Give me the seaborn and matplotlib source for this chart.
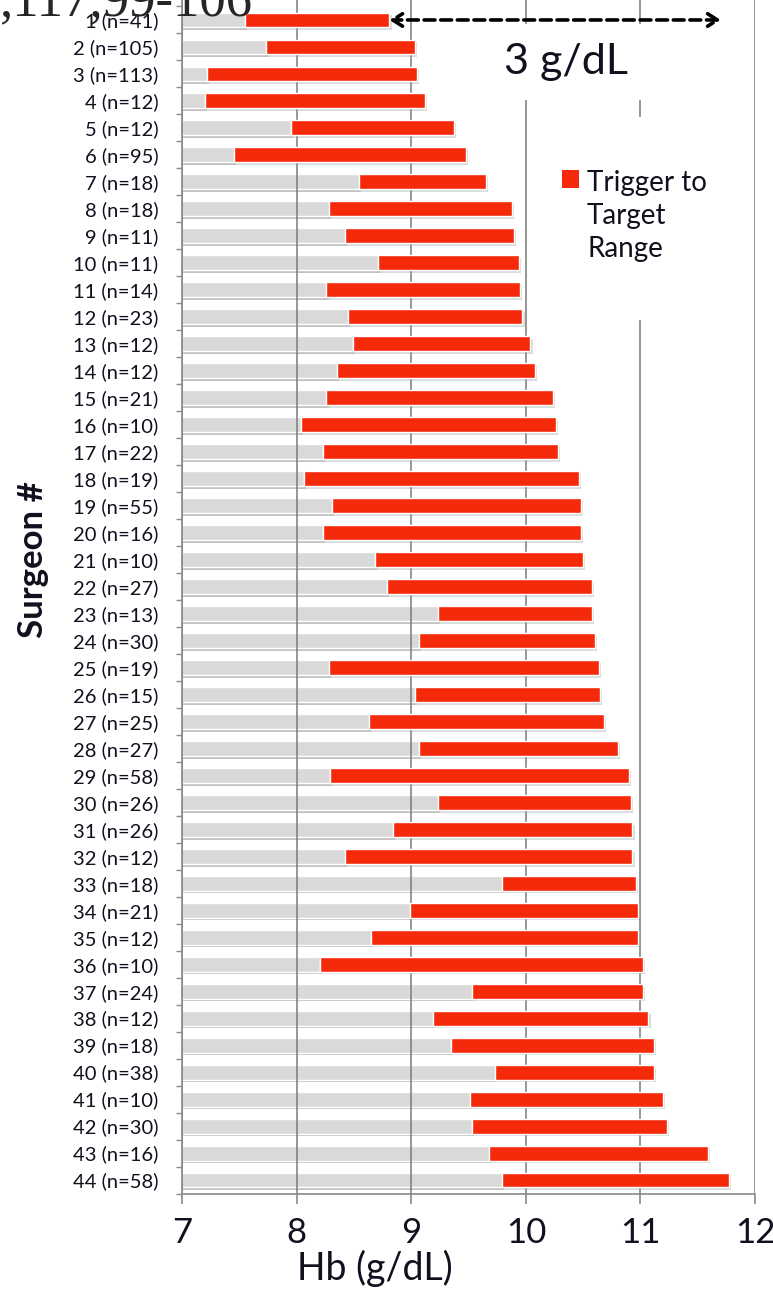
import numpy as np
import pandas as pd
import seaborn as sns
import matplotlib.pyplot as plt
import matplotlib.patheffects as pe
from matplotlib.patches import Patch, Rectangle

# surgeon number and case count
surgeons = list(range(1, 45))
n_cases = [41, 105, 113, 12, 12, 95, 18, 18, 11, 11, 14, 23, 12, 12, 21, 10, 22, 19, 55, 16, 10, 27,
           13, 30, 19, 15, 25, 27, 58, 26, 26, 12, 18, 21, 12, 10, 24, 12, 18, 38, 10, 30, 16, 58]

# transfusion trigger Hb (start of red bar) and target Hb (end of red bar), g/dL
trigger = [7.55, 7.73, 7.22, 7.20, 7.95, 7.45, 8.54, 8.28, 8.42, 8.71, 8.26, 8.45, 8.49, 8.35, 8.26,
           8.04, 8.23, 8.06, 8.31, 8.23, 8.68, 8.79, 9.23, 9.07, 8.28, 9.03, 8.63, 9.07, 8.29, 9.23,
           8.84, 8.42, 9.79, 8.99, 8.65, 8.20, 9.53, 9.19, 9.35, 9.73, 9.51, 9.53, 9.68, 9.79]
target = [8.81, 9.03, 9.05, 9.12, 9.37, 9.48, 9.65, 9.88, 9.90, 9.94, 9.95, 9.97, 10.04, 10.08, 10.24,
          10.26, 10.28, 10.46, 10.48, 10.48, 10.50, 10.58, 10.58, 10.60, 10.64, 10.65, 10.68, 10.80,
          10.90, 10.92, 10.93, 10.93, 10.96, 10.98, 10.98, 11.02, 11.02, 11.07, 11.12, 11.12, 11.20,
          11.23, 11.59, 11.77]

labels = [f"{s} (n={n})" for s, n in zip(surgeons, n_cases)]
df = pd.DataFrame({"label": labels, "trigger": trigger, "target": target})

RED = "#f42a0a"
GREY = "#d9d9d9"
TXT = "#10101e"

sns.set_style("white")
plt.rcParams["font.family"] = ["Lato", "DejaVu Sans"]

fig = plt.figure(figsize=(7.73, 12.92), dpi=100)
ax = fig.add_axes([0.2355, 0.0762, 0.7413, 0.9238])
ax.set_axisbelow("line")

shadow = [pe.SimplePatchShadow(offset=(1.5, -2), shadow_rgbFace="#777777", alpha=0.45), pe.Normal()]

# grey part: 7 -> trigger
sns.barplot(data=df, x="trigger", y="label", orient="h", color=GREY, width=0.55,
            saturation=1, ax=ax, zorder=1)
for p in ax.patches:
    p.set_path_effects(shadow)

# red part: trigger -> target
pos = np.arange(len(df))
red = ax.barh(pos, df["target"] - df["trigger"], left=df["trigger"], height=0.55,
              color=RED, zorder=2)
for p in red:
    p.set_path_effects([pe.SimplePatchShadow(offset=(1.5, -2), shadow_rgbFace="#999999", alpha=0.35),
                        pe.Normal()])

ax.set_xlim(7, 12)
ax.set_ylim(len(df) - 0.5, -0.74)
ax.set_xticks([7, 8, 9, 10, 11, 12])
ax.grid(axis="x", color="#7a7a7a", lw=1.1)
ax.grid(axis="y", visible=False)

# excel style ticks between categories
ax.set_yticks(pos)
ax.set_yticklabels(labels, fontsize=14.5, color=TXT)
ax.set_yticks(np.arange(len(df) + 1) - 0.5, minor=True)
ax.tick_params(axis="y", which="major", length=0, pad=17)
ax.tick_params(axis="y", which="minor", length=4, color="#8a8a8a", width=1, left=True)
ax.tick_params(axis="x", length=7, color="#8a8a8a", width=1.2, bottom=True,
               labelsize=25, pad=10, labelcolor=TXT)

for side in ["top", "right"]:
    ax.spines[side].set_visible(False)
for side in ["left", "bottom"]:
    ax.spines[side].set_color("#8a8a8a")
    ax.spines[side].set_linewidth(1.2)

ax.set_ylabel("Surgeon #", fontsize=25, fontweight="bold", color=TXT)
ax.yaxis.set_label_coords(-0.26, 0.531)
ax.yaxis.label.set_va("center")
ax.set_xlabel("Hb (g/dL)", fontsize=27, color=TXT)
ax.xaxis.set_label_coords(0.337, -0.0624)
ax.xaxis.label.set_va("center")

# 3 g/dL span arrow
ax.annotate("", xy=(target[0], 0), xytext=(11.7, 0),
            arrowprops=dict(arrowstyle="<->,head_length=0.7,head_width=0.45",
                            linestyle=(0, (3, 1.6)), lw=2.6, color="black",
                            shrinkA=0, shrinkB=0), zorder=6)
ax.text(0.67, 0.948, "3 g/dL", transform=ax.transAxes, fontsize=31, ha="center", va="center",
        color=TXT, bbox=dict(facecolor="white", edgecolor="none", pad=14), zorder=5)

# white legend area (hides the gridline behind it, like the excel legend box)
ax.add_patch(Rectangle((0.634, 0.732), 0.349, 0.170, transform=ax.transAxes,
                       facecolor="white", edgecolor="none", zorder=1.8))
leg = ax.legend(handles=[Patch(facecolor=RED, edgecolor="none")],
                labels=["Trigger to\nTarget\nRange"], loc="upper left",
                bbox_to_anchor=(0.6632, 0.8575), borderaxespad=0, borderpad=0,
                fontsize=20, frameon=False, handlelength=0.6, handleheight=0.6,
                handletextpad=0.3, labelcolor=TXT)
for t in leg.get_texts():
    t.set_linespacing(1.32)
# put the square next to the first line of the label
for row in leg._legend_handle_box.get_children()[0].get_children():
    row.align = "top"

# stray citation text cut at top of the figure
fig.text(0.0, 1 - 15 / 1292, ",117,99-106", family="Liberation Serif", fontsize=38,
         va="baseline", ha="left")

fig.savefig("out.png", dpi=100)
